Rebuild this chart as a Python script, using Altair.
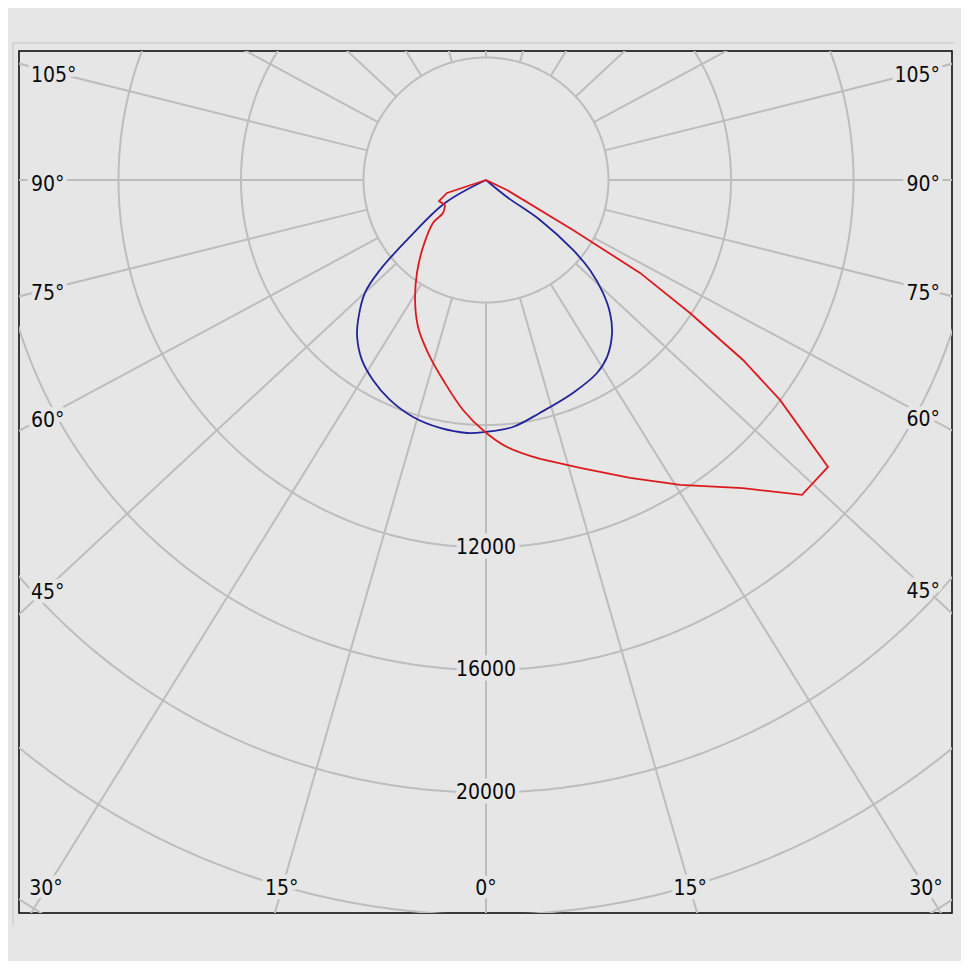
import math
import altair as alt
import pandas as pd
import numpy as np

# ---------------- data ----------------
# angle in degrees from nadir (0 = straight down, negative = left side), intensity in cd
BLUE_ANGLE = [-180, -60.7, -52.8, -49.7, -47.0, -42.4, -39.4, -34.6, -29.5, -23.6, -17.1,
              -10.5, -4.3, -0.2, 6.2, 13.0, 22.2, 29.9, 34.4, 39.5, 43.0, 46.0, 49.1,
              51.2, 53.5, 51.0, 180]
BLUE_CD = [0, 1535, 3236, 4540, 5406, 6194, 6630, 7137, 7500, 7836, 8097,
           8235, 8284, 8228, 8113, 7806, 7511, 7270, 7000, 6471, 5937, 5311, 4490,
           3646, 2194, 882, 0]

RED_ANGLE = [180, 64.5, 60.1, 58.9, 56.9, 55.0, 53.2, 50.0, 45.1, 42.1, 39.8, 32.5, 25.8,
             18.1, 11.0, 4.5, -0.2, -5.7, -12.1, -18.5, -24.8, -30.6, -36.6, -43.2,
             -51.0, -52.5, -58.6, -65.9, -71.6, -180]
RED_CD = [0, 760, 3276, 5874, 7951, 10245, 11989, 14578, 14568, 13684, 13096, 11803, 10807,
          9893, 9279, 8744, 8228, 7546, 6680, 5959, 5289, 4551, 3781, 3004,
          2227, 1770, 1567, 1681, 1342, 0]

RING_VALUES = [4000, 8000, 12000, 16000, 20000, 24000, 28000]
RING_LABELS = [12000, 16000, 20000]
SPOKE_ANGLES = list(range(-165, 181, 15))
SIDE_LABEL_ANGLES = [45, 60, 75, 90, 105]
BOTTOM_LABEL_ANGLES = [-30, -15, 0, 15, 30]

# ---------------- layout / style ----------------
W, H = 933, 862
CX, CY = 467, 129               # pole position inside the plot, px
PX_PER_CD = 122.5 / 4000
SPOKE_STRETCH = 1.075           # spokes in the source are drawn slightly widened
SIDE_INSET, BOTTOM_INSET = 28, 24
RED_SMOOTH = (14, 26)           # part of the red curve that is drawn smoothly
BG = "#e6e6e6"
GRID = "#bdbdbd"
FONT = "DejaVu Sans Condensed, Liberation Sans, sans-serif"
FS = 21

xdom = [-CX / PX_PER_CD, (W - CX) / PX_PER_CD]
ydom = [-CY / PX_PER_CD, (H - CY) / PX_PER_CD]
xs = alt.Scale(domain=xdom, nice=False, zero=False)
ys = alt.Scale(domain=ydom, nice=False, zero=False, reverse=True)


def polar_xy(angle_deg, r):
    a = math.radians(angle_deg)
    return r * math.sin(a), r * math.cos(a)


def spoke_dir(angle_deg):
    a = math.radians(angle_deg)
    dx, dy = SPOKE_STRETCH * math.sin(a), math.cos(a)
    n = math.hypot(dx, dy)
    return dx / n, dy / n


def curve_df(angs, cds):
    rows = []
    for i, (a, c) in enumerate(zip(angs, cds)):
        x, y = polar_xy(a, c)
        rows.append({"i": i, "x": x, "y": y})
    return pd.DataFrame(rows)


blue = curve_df(BLUE_ANGLE, BLUE_CD)
red = curve_df(RED_ANGLE, RED_CD)
s0, s1 = RED_SMOOTH
red_a = red[red.i <= s0]
red_b = red[(red.i >= s0) & (red.i <= s1)]
red_c = red[red.i >= s1]

# rings
ring_rows = []
for v in RING_VALUES:
    for k, a in enumerate(np.linspace(0, 360, 721)):
        x, y = polar_xy(a, v)
        ring_rows.append({"ring": v, "k": k, "x": x, "y": y})
rings = pd.DataFrame(ring_rows)

# spokes
sp_rows = []
for a in SPOKE_ANGLES:
    ux, uy = spoke_dir(a)
    sp_rows.append({"x": ux * 4000, "y": uy * 4000, "x2": ux * 40000, "y2": uy * 40000})
spokes = pd.DataFrame(sp_rows)

# angle labels
left_x = (SIDE_INSET - CX) / PX_PER_CD
right_x = (W - SIDE_INSET - CX) / PX_PER_CD
bottom_y = (H - BOTTOM_INSET - CY) / PX_PER_CD
lab_left, lab_right, lab_bottom = [], [], []
for a in SIDE_LABEL_ANGLES:
    ux, uy = spoke_dir(-a)
    t = left_x / ux
    lab_left.append({"x": left_x, "y": t * uy, "t": f"{a}°"})
    ux, uy = spoke_dir(a)
    t = right_x / ux
    lab_right.append({"x": right_x, "y": t * uy, "t": f"{a}°"})
for a in BOTTOM_LABEL_ANGLES:
    ux, uy = spoke_dir(a)
    t = bottom_y / uy
    lab_bottom.append({"x": t * ux, "y": bottom_y, "t": f"{abs(a)}°"})
lab_left = pd.DataFrame(lab_left)
lab_right = pd.DataFrame(lab_right)
lab_bottom = pd.DataFrame(lab_bottom)
lab_vals = pd.DataFrame({"x": [0.0] * len(RING_LABELS), "y": [float(v) for v in RING_LABELS],
                         "t": [str(v) for v in RING_LABELS]})

enc = dict(x=alt.X("x:Q", scale=xs, axis=None), y=alt.Y("y:Q", scale=ys, axis=None))

ring_layer = alt.Chart(rings).mark_line(color=GRID, strokeWidth=2, clip=True).encode(
    **enc, detail="ring:N", order="k:Q")
spoke_layer = alt.Chart(spokes).mark_rule(color=GRID, strokeWidth=2, clip=True).encode(
    **enc, x2="x2:Q", y2="y2:Q")


def text_layers(df, align, dx=0, dy=0):
    base = alt.Chart(df)
    halo = base.mark_text(font=FONT, fontSize=FS, align=align, baseline="middle", dx=dx, dy=dy,
                          stroke=BG, strokeWidth=9, strokeJoin="round", fill=BG).encode(**enc, text="t:N")
    txt = base.mark_text(font=FONT, fontSize=FS, align=align, baseline="middle", dx=dx, dy=dy,
                         color="#0a0a0a").encode(**enc, text="t:N")
    return [halo, txt]


labels = (text_layers(lab_left, "left", dx=-16, dy=5) + text_layers(lab_right, "right", dx=16, dy=5)
          + text_layers(lab_bottom, "center") + text_layers(lab_vals, "center"))

BLUE_C, RED_C = "#24249a", "#dc1a1e"
blue_layer = alt.Chart(blue).mark_line(strokeWidth=1.8, clip=True, color=BLUE_C,
                                       interpolate="catmull-rom").encode(**enc, order="i:Q")
red_layers = [
    alt.Chart(red_a).mark_line(strokeWidth=1.8, clip=True, color=RED_C,
                               strokeJoin="miter").encode(**enc, order="i:Q"),
    alt.Chart(red_b).mark_line(strokeWidth=1.8, clip=True, color=RED_C,
                               interpolate="catmull-rom").encode(**enc, order="i:Q"),
    alt.Chart(red_c).mark_line(strokeWidth=1.8, clip=True, color=RED_C,
                               strokeJoin="miter").encode(**enc, order="i:Q"),
]

outer_v = alt.Chart(pd.DataFrame({"a": [0]})).mark_rule(color="#c6c6c6", strokeWidth=1).encode(
    x=alt.value(-6), y=alt.value(-8), y2=alt.value(874))
outer_h = alt.Chart(pd.DataFrame({"a": [0]})).mark_rule(color="#c6c6c6", strokeWidth=1).encode(
    x=alt.value(-6), x2=alt.value(936), y=alt.value(-8))

chart = alt.layer(ring_layer, spoke_layer, *labels, blue_layer, *red_layers, outer_v, outer_h).properties(
    width=W, height=H, background=BG,
    padding={"left": 11, "top": 43, "right": 9, "bottom": 48},
    autosize=alt.AutoSizeParams(type="none"),
).configure_view(stroke="black", strokeWidth=1.5, fill=BG)

chart.save("out.html", embed_options={"renderer": "svg", "actions": False})
